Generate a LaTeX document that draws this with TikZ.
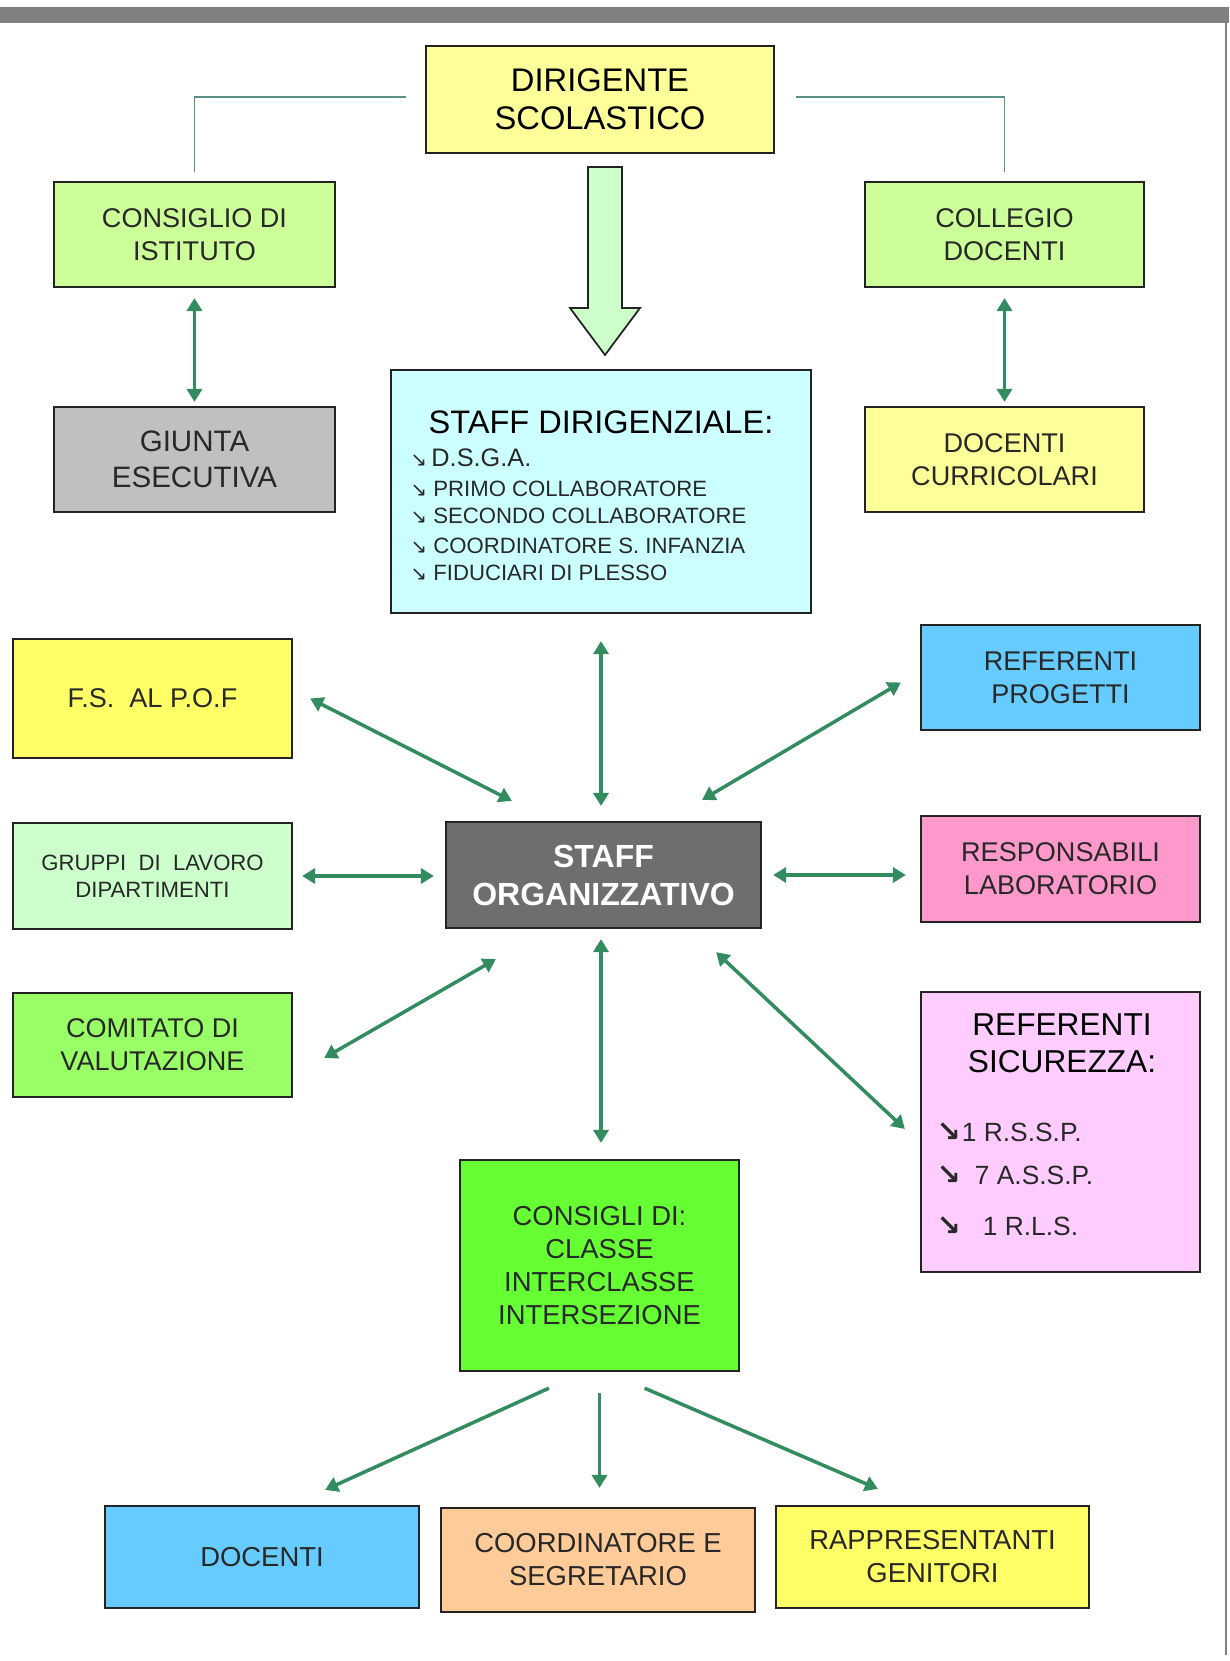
\documentclass[tikz,border=0pt]{standalone}
\usepackage{fontspec}
\setmainfont{Liberation Sans}
\newfontfamily\glyphfont{DejaVu Sans}
\usetikzlibrary{arrows.meta}

\definecolor{framegray}{RGB}{128,128,128}
\definecolor{boxline}{RGB}{35,35,35}
\definecolor{textdark}{RGB}{40,40,40}
\definecolor{linkteal}{RGB}{90,145,135}
\definecolor{arrowgreen}{RGB}{50,140,95}
\definecolor{arrowfill}{RGB}{204,255,204}
\definecolor{limegreen}{RGB}{204,255,153}
\definecolor{paleyellow}{RGB}{255,255,153}
\definecolor{brightyellow}{RGB}{255,255,102}
\definecolor{silvergray}{RGB}{192,192,192}
\definecolor{palecyan}{RGB}{204,255,255}
\definecolor{mintgreen}{RGB}{204,255,204}
\definecolor{grassgreen}{RGB}{153,255,102}
\definecolor{darkslate}{RGB}{110,110,110}
\definecolor{skyblue}{RGB}{102,204,255}
\definecolor{rosepink}{RGB}{255,153,204}
\definecolor{lilac}{RGB}{255,204,255}
\definecolor{neongreen}{RGB}{102,255,51}
\definecolor{peach}{RGB}{255,204,153}

\newcommand{\fsz}[2]{\fontsize{#1}{#2}\selectfont}
\newcommand{\thinse}{{\glyphfont\fsz{5.6}{6}↘}}
\newcommand{\boldse}{{\glyphfont\bfseries\fsz{8.2}{9}↘}}

\tikzset{
  orgbox/.style={draw=boxline, line width=0.6pt, inner sep=0pt, align=center,
    text=textdark, font=\fsz{7.7}{9.4}},
  biarrow/.style={arrowgreen, line width=1pt,
    {Triangle[length=3.7pt,width=4.3pt]}-{Triangle[length=3.7pt,width=4.3pt]}},
  onearrow/.style={arrowgreen, line width=1pt, -{Triangle[length=3.7pt,width=4.3pt]}},
  tealline/.style={linkteal, line width=0.5pt},
}

\begin{document}
\begin{tikzpicture}[x=0.01cm,y=-0.01cm]
			\useasboundingbox (0,0) rectangle (1229,1661);
			
			% Page frame
			\fill[framegray] (0,7) rectangle (1229,23);
			\draw[framegray,line width=0.65pt] (1226,23) -- (1226,1655);
			
			% Head of school and councils
			\node[orgbox,fill=paleyellow,minimum width=3.48cm,minimum height=1.07cm,text=black,font=\fsz{9.3}{10.8}] (dir) at (600,99.5) {DIRIGENTE\\SCOLASTICO};
			\node[orgbox,fill=limegreen,minimum width=2.81cm,minimum height=1.05cm] (consiglio) at (194.5,234.5) {CONSIGLIO DI\\ISTITUTO};
			\node[orgbox,fill=limegreen,minimum width=2.79cm,minimum height=1.05cm] (collegio) at (1004.5,234.5) {COLLEGIO\\DOCENTI};
			\node[orgbox,fill=silvergray,minimum width=2.81cm,minimum height=1.05cm,font=\fsz{8.4}{10.2}] (giunta) at (194.5,459.5) {GIUNTA\\ESECUTIVA};
			\node[orgbox,fill=paleyellow,minimum width=2.79cm,minimum height=1.05cm] (curricolari) at (1004.5,459.5) {DOCENTI\\CURRICOLARI};
			
			% Staff dirigenziale (title centred, list left aligned)
			\node[orgbox,fill=palecyan,minimum width=4.2cm,minimum height=2.43cm] (sdir) at (601,491.5) {};
			\node[text=black,inner sep=0pt,font=\fsz{9.25}{11}] (sdirtitle) at (601,422) {STAFF DIRIGENZIALE:};
			\node[anchor=base west,inner sep=0pt,text=textdark,font=\fsz{7.2}{8}] (sdir0) at (410,466) {\thinse\,D.S.G.A.};
			\foreach \yy/\txt [count=\i] in {496/PRIMO COLLABORATORE, 523/SECONDO COLLABORATORE, 553/COORDINATORE S. INFANZIA, 580/FIDUCIARI DI PLESSO}
				\node[anchor=base west,inner sep=0pt,text=textdark,font=\fsz{6.3}{7}] (sdir\i) at (410,\yy) {\thinse\ \txt};
			
			% Block arrow from the head down to the staff
			\draw[boxline,line width=0.5pt,fill=arrowfill] (588,167) -- (622,167) -- (622,308) -- (640,308) -- (605,355) -- (570,308) -- (588,308) -- cycle;
			
			% Middle ring round the organisational staff
			\node[orgbox,fill=brightyellow,minimum width=2.79cm,minimum height=1.19cm] (fs) at (152.5,698.5) {F.S.~ AL P.O.F};
			\node[orgbox,fill=mintgreen,minimum width=2.79cm,minimum height=1.06cm,font=\fsz{6.3}{7.7}] (gruppi) at (152.5,876) {GRUPPI~ DI~ LAVORO\\DIPARTIMENTI};
			\node[orgbox,fill=grassgreen,minimum width=2.79cm,minimum height=1.04cm] (comitato) at (152.5,1045) {COMITATO DI\\VALUTAZIONE};
			\node[orgbox,fill=darkslate,minimum width=3.15cm,minimum height=1.06cm,text=white,font=\bfseries\fsz{9.1}{10.8}] (sorg) at (603.5,875) {STAFF\\ORGANIZZATIVO};
			\node[orgbox,fill=skyblue,minimum width=2.79cm,minimum height=1.05cm] (refprog) at (1060.5,677.5) {REFERENTI\\PROGETTI};
			\node[orgbox,fill=rosepink,minimum width=2.79cm,minimum height=1.06cm] (resp) at (1060.5,869) {RESPONSABILI\\LABORATORIO};
			
			% Safety officers
			\node[orgbox,fill=lilac,minimum width=2.79cm,minimum height=2.8cm] (refsic) at (1060.5,1132) {};
			\node[text=black,align=center,inner sep=0pt,font=\fsz{9}{10.5}] (refsictitle) at (1062,1043.5) {REFERENTI\\SICUREZZA:};
			\node[anchor=base west,inner sep=0pt,text=textdark,font=\fsz{7.5}{8}] (refsic1) at (936,1141) {\boldse\hspace{0.01cm}1 R.S.S.P.};
			\node[anchor=base west,inner sep=0pt,text=textdark,font=\fsz{7.5}{8}] (refsic2) at (936,1184) {\boldse\hspace{0.14cm}7 A.S.S.P.};
			\node[anchor=base west,inner sep=0pt,text=textdark,font=\fsz{7.5}{8}] (refsic3) at (936,1235) {\boldse\hspace{0.22cm}1 R.L.S.};
			
			% Class councils and bottom row
			\node[orgbox,fill=neongreen,minimum width=2.79cm,minimum height=2.11cm,font=\fsz{7.8}{9.4}] (consigli) at (599.5,1265.5) {CONSIGLI DI:\\CLASSE\\INTERCLASSE\\INTERSEZIONE};
			\node[orgbox,fill=skyblue,minimum width=3.14cm,minimum height=1.02cm,font=\fsz{7.8}{9.4}] (docenti) at (262,1557) {DOCENTI};
			\node[orgbox,fill=peach,minimum width=3.14cm,minimum height=1.04cm,font=\fsz{7.8}{9.4}] (coord) at (598,1560) {COORDINATORE E\\SEGRETARIO};
			\node[orgbox,fill=brightyellow,minimum width=3.13cm,minimum height=1.02cm,font=\fsz{7.8}{9.4}] (rappr) at (932.5,1557) {RAPPRESENTANTI\\GENITORI};
			
			% Thin links from the head
			\draw[tealline] ([xshift=-0.19cm,yshift=0.025cm]dir.west) -| ([yshift=0.09cm]consiglio.north);
			\draw[tealline] ([xshift=0.21cm,yshift=0.025cm]dir.east) -| ([yshift=0.09cm]collegio.north);
			
			% Green arrows
			\draw[biarrow,shorten <=0.1cm,shorten >=0.04cm] (consiglio.south) -- (giunta.north);
			\draw[biarrow,shorten <=0.1cm,shorten >=0.04cm] (collegio.south) -- (curricolari.north);
			\draw[biarrow,shorten <=0.27cm,shorten >=0.15cm] (sdir.south) -- (sdir.south |- sorg.north);
			\draw[biarrow] ([xshift=0.17cm]fs.east) -- ([shift={(0.67cm,0.2cm)}]sorg.north west);
			\draw[biarrow] ([shift={(-0.19cm,-0.05cm)}]refprog.west) -- ([shift={(-0.6cm,0.21cm)}]sorg.north east);
			\draw[biarrow,shorten <=0.09cm,shorten >=0.11cm] (gruppi.east) -- (gruppi.east -| sorg.west);
			\draw[biarrow,shorten <=0.11cm,shorten >=0.14cm] (sorg.east) -- (sorg.east -| resp.west);
			\draw[biarrow] ([shift={(0.51cm,-0.3cm)}]sorg.south west) -- ([shift={(0.31cm,-0.13cm)}]comitato.east);
			\draw[biarrow] ([shift={(-0.46cm,-0.23cm)}]sorg.south east) -- ([shift={(-0.15cm,0.03cm)}]refsic.west);
			\draw[biarrow,shorten <=0.1cm,shorten >=0.16cm] (sdir.south |- sorg.south) -- (sdir.south |- consigli.north);
			\draw[onearrow] ([shift={(-0.505cm,-0.16cm)}]consigli.south) -- ([shift={(0.63cm,0.15cm)}]docenti.north);
			\draw[onearrow,shorten <=0.21cm,shorten >=0.19cm] (consigli.south) -- (consigli.south |- coord.north);
			\draw[onearrow] ([shift={(0.45cm,-0.16cm)}]consigli.south) -- ([shift={(-0.545cm,0.16cm)}]rappr.north);
		\end{tikzpicture}
\end{document}
